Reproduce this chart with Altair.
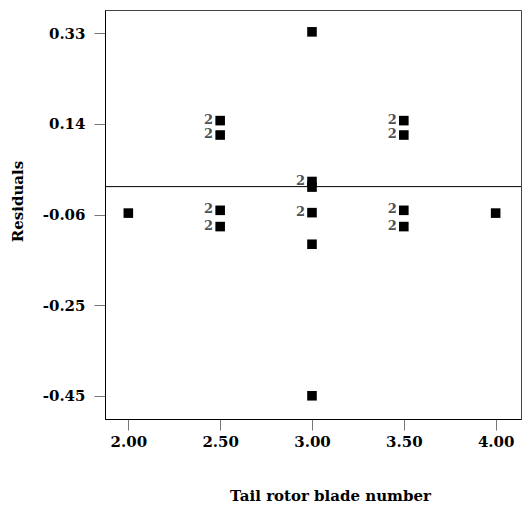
import altair as alt
import pandas as pd

# Residuals by tail rotor blade number; `count` marks coincident cases
blade_number = [2.0, 2.5, 2.5, 2.5, 2.5, 3.0, 3.0, 3.0, 3.0, 3.0, 3.0, 3.5, 3.5, 3.5, 3.5, 4.0]
residual = [-0.057, 0.142, 0.111, -0.051, -0.086, 0.333, 0.011, -0.001, -0.056, -0.124, -0.450,
            0.142, 0.111, -0.051, -0.086, -0.057]
count = [1, 2, 2, 2, 2, 1, 2, 1, 2, 1, 1, 2, 2, 2, 2, 1]

x_ticks = [2.0, 2.5, 3.0, 3.5, 4.0]
y_ticks = [-0.45, -0.255, -0.06, 0.135, 0.33]
y_tick_labels = ["-0.45", "-0.25", "-0.06", "0.14", "0.33"]

df = pd.DataFrame({"blade": blade_number, "resid": residual, "n": count})
df["label"] = [str(c) if c > 1 else "" for c in count]

FONT = "DejaVu Serif"

y_label_expr = "{}[indexof({}, datum.value)]".format(
    "[" + ",".join("'%s'" % s for s in y_tick_labels) + "]",
    "[" + ",".join(repr(v) for v in y_ticks) + "]",
)

x_enc = alt.X(
    "blade:Q",
    scale=alt.Scale(domain=[1.873, 4.138], nice=False, zero=False),
    axis=alt.Axis(
        values=x_ticks, format=".2f", title="Tail rotor blade number",
        grid=False, tickSize=11, labelPadding=4, titlePadding=39, titleX=225,
    ),
)
y_enc = alt.Y(
    "resid:Q",
    scale=alt.Scale(domain=[-0.5, 0.38], nice=False, zero=False),
    axis=alt.Axis(
        values=y_ticks, labelExpr=y_label_expr, title="Residuals",
        grid=False, tickSize=11, labelPadding=9, titlePadding=17, titleY=191,
    ),
)

points = alt.Chart(df).mark_square(size=92, color="black", opacity=1).encode(x=x_enc, y=y_enc)

counts = alt.Chart(df).transform_filter("datum.n > 1").mark_text(
    align="right", baseline="alphabetic", dx=-7, dy=3,
    font=FONT, fontWeight="bold", fontSize=13, color="#4a5159",
).encode(x="blade:Q", y="resid:Q", text="label:N")

zero_line = alt.Chart(pd.DataFrame({"z": [0.0]})).mark_rule(color="black", strokeWidth=1).encode(
    y="z:Q"
)

chart = (
    alt.layer(zero_line, points, counts)
    .properties(
        width=416, height=409,
        autosize=alt.AutoSizeParams(type="none"),
        padding={"left": 105, "top": 10, "right": 5, "bottom": 92},
    )
    .configure_view(stroke="#444", strokeWidth=1)
    .configure_axis(
        labelFont=FONT, labelFontWeight="bold", labelFontSize=15, labelColor="black",
        titleFont=FONT, titleFontWeight="bold", titleFontSize=15, titleColor="black",
        domainColor="black", tickColor="#777",
    )
)

chart.save("out.html", embed_options={"renderer": "svg", "actions": False})
